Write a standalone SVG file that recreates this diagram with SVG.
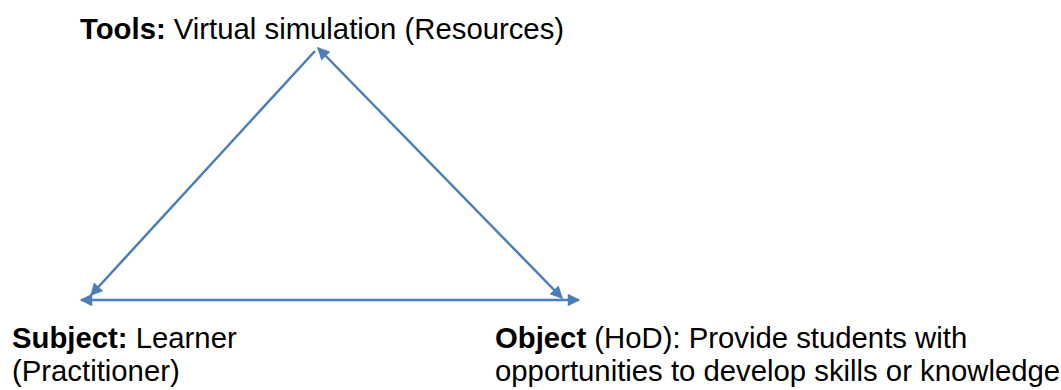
<svg xmlns="http://www.w3.org/2000/svg" width="1061" height="390" viewBox="0 0 1061 390">
<style>
text{font-family:"Liberation Sans",Arial,sans-serif;font-size:29.3px;fill:#000}
.b{font-weight:bold}
.c{stroke:#4a7ebb;stroke-width:2.5;fill:none}
</style>
<defs>
<marker id="ah" viewBox="0 0 10 10" refX="9" refY="5" markerWidth="6" markerHeight="5" markerUnits="strokeWidth" orient="auto-start-reverse">
<path d="M0,0 L10,5 L0,10 z" fill="#4a7ebb"/>
</marker>
</defs>
<rect width="1061" height="390" fill="#fff"/>
<g id="connectors">
<line class="c" x1="315" y1="51" x2="91" y2="295" marker-end="url(#ah)"/>
<line class="c" x1="318" y1="48" x2="562" y2="298" marker-start="url(#ah)" marker-end="url(#ah)"/>
<line class="c" x1="81" y1="300" x2="579" y2="300" marker-start="url(#ah)" marker-end="url(#ah)"/>
</g>
<g id="tools"><text x="80" y="39"><tspan class="b">Tools:</tspan> Virtual simulation (Resources)</text></g>
<g id="subject"><text x="12" y="348"><tspan class="b">Subject:</tspan> Learner</text><text x="12" y="381">(Practitioner)</text></g>
<g id="object"><text x="495" y="348"><tspan class="b">Object</tspan> (HoD): Provide students with</text><text x="495" y="381">opportunities to develop skills or knowledge</text></g>
</svg>
